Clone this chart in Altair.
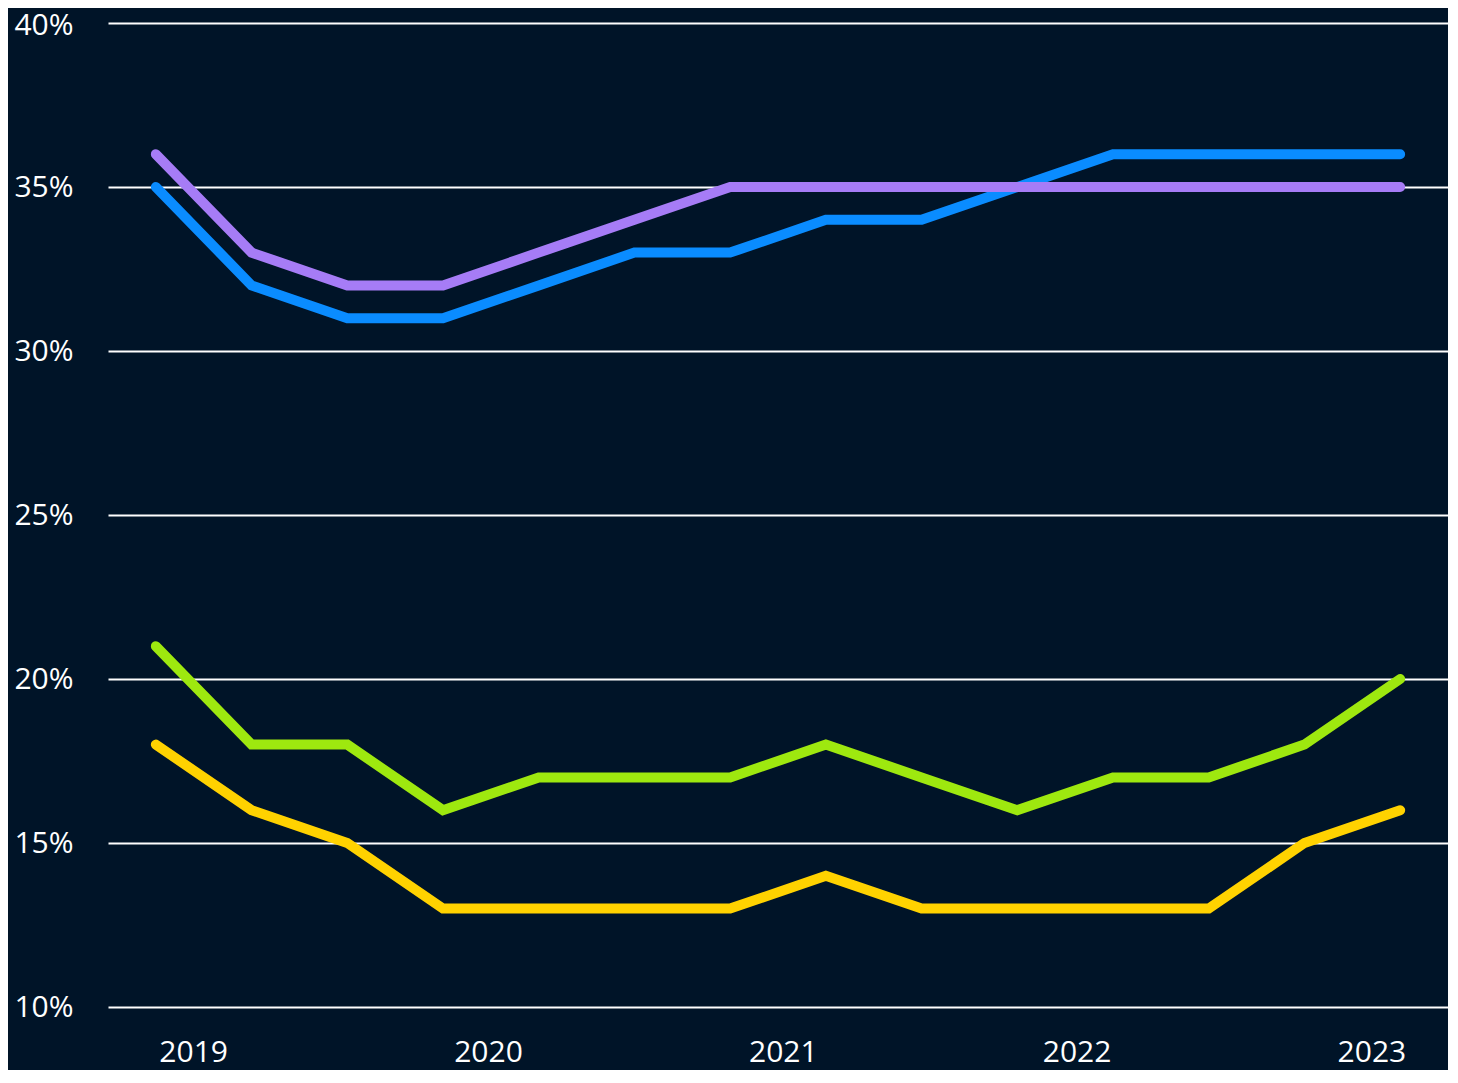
import altair as alt
import pandas as pd

periods = list(range(14))
blue = [35, 32, 31, 31, 32, 33, 33, 34, 34, 35, 36, 36, 36, 36]
purple = [36, 33, 32, 32, 33, 34, 35, 35, 35, 35, 35, 35, 35, 35]
green = [21, 18, 18, 16, 17, 17, 17, 18, 17, 16, 17, 17, 18, 20]
yellow = [18, 16, 15, 13, 13, 13, 13, 14, 13, 13, 13, 13, 15, 16]

year_labels = ["2019", "2020", "2021", "2022", "2023"]
year_ticks = [0.39, 3.47, 6.55, 9.62, 12.70]
y_ticks = [10, 15, 20, 25, 30, 35, 40]

series = [("blue", blue, "#0A8CFF"), ("purple", purple, "#A67CF6"),
          ("green", green, "#9EE80F"), ("yellow", yellow, "#FFD200")]

BG = "#001428"
FONT = "Open Sans"

label_expr = " : ".join(
    f"abs(datum.value - {t}) < 0.01 ? '{l}'" for t, l in zip(year_ticks, year_labels)
) + " : ''"

x_enc = alt.X("period:Q",
              scale=alt.Scale(domain=[-0.5, 13.5], nice=False, zero=False),
              axis=alt.Axis(values=year_ticks, labelExpr=label_expr, grid=False,
                            domain=False, ticks=False, labelPadding=30,
                            labelFontSize=30, labelColor="#FFFFFF", labelFont=FONT,
                            labelFontWeight="normal", title=None))
y_enc = alt.Y("value:Q",
              scale=alt.Scale(domain=[10, 40], nice=False, zero=False),
              axis=alt.Axis(values=y_ticks, labelExpr="datum.value + '%'", grid=True,
                            gridColor="#FFFFFF", gridWidth=2, gridOpacity=1,
                            domain=False, ticks=False, labelPadding=35,
                            labelOffset={"condition": {"test": "datum.value == 40", "value": 2},
                                         "value": 0},
                            labelFontSize=30, labelColor="#FFFFFF", labelFont=FONT,
                            labelFontWeight="normal", title=None))

layers = []
for i, (name, vals, col) in enumerate(series):
    df = pd.DataFrame({"period": periods, "value": vals})
    enc = dict(x=x_enc, y=y_enc) if i == 0 else dict(x=alt.X("period:Q"), y=alt.Y("value:Q"))
    layers.append(
        alt.Chart(df).mark_line(color=col, strokeWidth=10, strokeCap="round",
                                strokeJoin="miter").encode(**enc)
    )

chart = alt.layer(*layers).properties(
    width=1340, height=984,
    autosize=alt.AutoSizeParams(type="none"),
    padding={"left": 100, "top": 15, "right": 0, "bottom": 63},
    background=BG,
).configure_view(stroke=None)

chart.save("out.html", embed_options={"renderer": "svg", "actions": False})
